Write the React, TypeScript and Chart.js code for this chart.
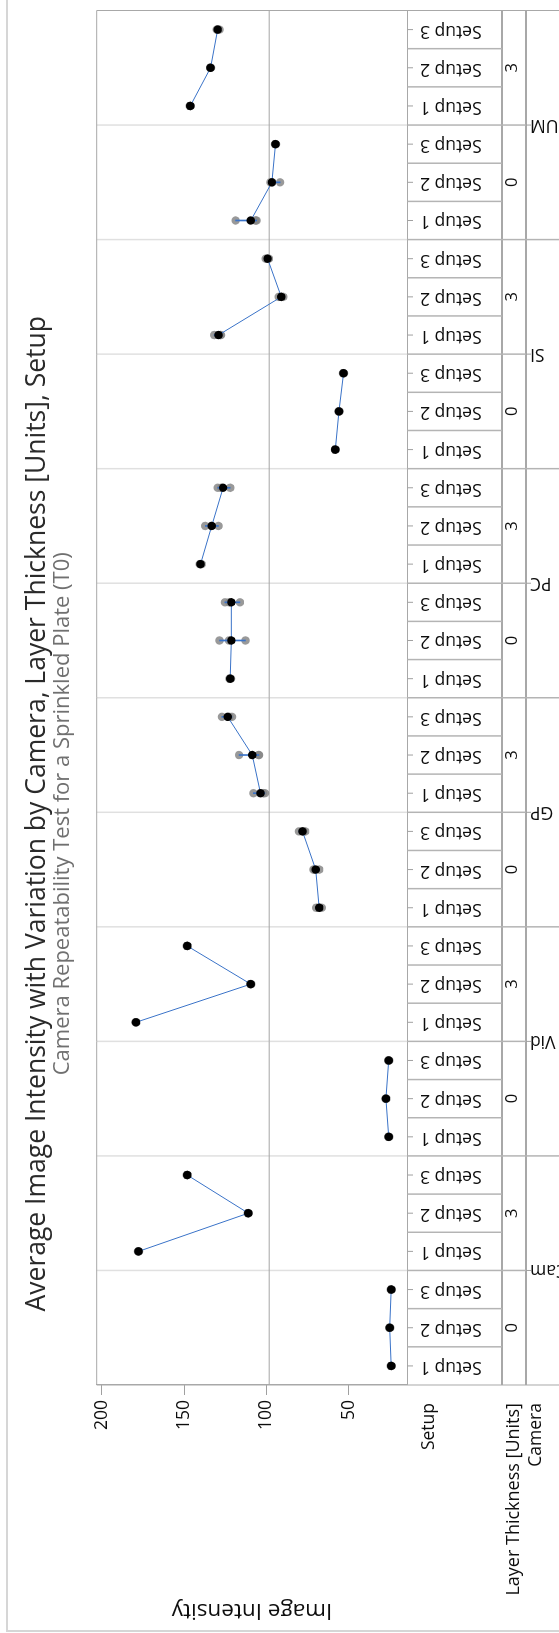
import React, { useEffect, useRef } from 'react';
import { Chart, registerables } from 'chart.js';

Chart.register(...registerables);

const FONT = '"Open Sans", "Noto Sans", sans-serif';

const TITLE = 'Average Image Intensity with Variation by Camera, Layer Thickness [Units], Setup';
const SUBTITLE = 'Camera Repeatability Test for a Sprinkled Plate (T0)';
const Y_TITLE = 'Image Intensity';
const ROW_HEADERS = ['Setup', 'Layer Thickness [Units]', 'Camera'];

const CAMERAS = ['Cam', 'Vid', 'GP', 'PC', 'SI', 'UM'];
const THICKNESSES = ['0', '3'];
const SETUPS = ['Setup 1', 'Setup 2', 'Setup 3'];

const Y_TICKS = [50, 100, 150, 200];
const Y_MIN = 14.4;
const Y_MAX = 203;

// cell means per camera: thickness 0 (Setup 1..3), thickness 3 (Setup 1..3)
const CAM_MEANS = [24.3, 25.2, 24.3, 177.6, 111.0, 148.1];
const VID_MEANS = [25.8, 27.5, 25.8, 179.2, 109.5, 148.1];
const GP_MEANS = [68.0, 70.1, 78.1, 103.6, 108.6, 123.5];
const PC_MEANS = [122.0, 121.3, 121.3, 140.0, 133.2, 126.3];
const SI_MEANS = [58.2, 56.0, 53.2, 129.1, 91.0, 99.3];
const UM_MEANS = [109.5, 96.7, 94.5, 146.2, 133.9, 129.6];

// individual measurements per cell (same order)
const CAM_REPS = [[24.0, 24.3, 24.6], [24.9, 25.2, 25.5], [24.0, 24.3, 24.6], [177.3, 177.6, 177.9], [110.7, 111.0, 111.3], [147.8, 148.1, 148.4]];
const VID_REPS = [[25.5, 25.8, 26.1], [27.2, 27.5, 27.8], [25.5, 25.8, 26.1], [178.9, 179.2, 179.5], [109.2, 109.5, 109.8], [147.8, 148.1, 148.4]];
const GP_REPS = [[69.8, 67.8, 66.4], [71.4, 70.9, 68.0], [80.3, 77.5, 76.5], [107.9, 102.0, 100.9], [116.6, 104.7, 104.5], [127.0, 122.6, 120.9]];
const PC_REPS = [[122.5, 122.0, 121.5], [128.5, 112.7, 122.7], [125.2, 116.1, 122.6], [140.5, 139.9, 139.3], [137.1, 129.1, 133.4], [129.5, 122.0, 127.4]];
const SI_REPS = [[58.5, 58.2, 57.9], [56.3, 56.0, 55.7], [53.5, 53.2, 52.9], [131.7, 128.0, 127.6], [92.5, 91.0, 89.8], [100.4, 99.0, 98.5]];
const UM_REPS = [[118.7, 106.6, 106.0], [97.5, 96.5, 91.7], [94.8, 94.5, 94.2], [146.5, 146.2, 145.9], [134.2, 133.9, 133.6], [130.2, 129.5, 128.5]];

const MEANS_BY_CAMERA = [CAM_MEANS, VID_MEANS, GP_MEANS, PC_MEANS, SI_MEANS, UM_MEANS];
const REPS_BY_CAMERA = [CAM_REPS, VID_REPS, GP_REPS, PC_REPS, SI_REPS, UM_REPS];

const BLUE = 'rgb(58,115,200)';
const TEXT = '#0d0d0d';
const LINE = '#a8a8a8';

const CATEGORY_KEYS: string[] = [];
CAMERAS.forEach((c) => THICKNESSES.forEach((t) => SETUPS.forEach((s) => CATEGORY_KEYS.push(`${c}|${t}|${s}`))));

const MEANS: number[] = MEANS_BY_CAMERA.flat();
const REPS: number[][] = REPS_BY_CAMERA.flat();
const GRAND_MEAN = MEANS.reduce((a, b) => a + b, 0) / MEANS.length;

const REP_POINTS = REPS.flatMap((cell, i) => cell.map((v) => ({ x: CATEGORY_KEYS[i], y: v })));
const RANGES = REPS.map((cell) => [Math.min(...cell), Math.max(...cell)]);

const SETUP_ROW_H = 94.5;
const THICK_ROW_H = 24;

function seg(ctx: CanvasRenderingContext2D, x1: number, y1: number, x2: number, y2: number) {
  ctx.beginPath();
  ctx.moveTo(x1, y1);
  ctx.lineTo(x2, y2);
  ctx.stroke();
}

const variabilityPlugin = {
  id: 'variabilityTable',
  beforeDraw(chart: any) {
    const { ctx, width, height } = chart;
    ctx.save();
    ctx.strokeStyle = '#d6d6d6';
    ctx.lineWidth = 2;
    ctx.beginPath();
    ctx.moveTo(2, height + 5);
    ctx.lineTo(2, 7);
    ctx.lineTo(width + 5, 7);
    ctx.stroke();
    ctx.restore();
  },
  beforeDatasetsDraw(chart: any) {
    const { ctx, chartArea: ca, scales } = chart;
    const n = CATEGORY_KEYS.length;
    const step = (ca.right - ca.left) / n;
    ctx.save();
    ctx.strokeStyle = '#e0e0e0';
    ctx.lineWidth = 1.5;
    for (let k = 3; k < n; k += 3) {
      const px = ca.left + k * step;
      seg(ctx, px, ca.top, px, ca.bottom);
    }
    const gy = scales.y.getPixelForValue(GRAND_MEAN);
    ctx.strokeStyle = '#a6a6a6';
    ctx.lineWidth = 1;
    seg(ctx, ca.left, gy, ca.right, gy);
    ctx.restore();
  },
  afterDraw(chart: any) {
    const { ctx, chartArea: ca, scales, height } = chart;
    const xs = scales.x;
    const n = CATEGORY_KEYS.length;
    const step = (ca.right - ca.left) / n;
    const r0 = ca.bottom;
    const r1 = r0 + SETUP_ROW_H;
    const r2 = r1 + THICK_ROW_H;
    const r3 = height + 5;
    ctx.save();
    // plot frame
    ctx.strokeStyle = LINE;
    ctx.lineWidth = 1;
    seg(ctx, ca.left, ca.top, ca.right, ca.top);
    seg(ctx, ca.right, ca.top, ca.right, r3);
    seg(ctx, ca.left, ca.top, ca.left, r3);
    seg(ctx, ca.left, r0, ca.right, r0);
    ctx.lineWidth = 2;
    seg(ctx, ca.left, r1, ca.right, r1);
    seg(ctx, ca.left, r2, ca.right, r2);
    // setup cell separators
    ctx.strokeStyle = '#b4b4b4';
    ctx.lineWidth = 1.5;
    for (let k = 1; k < n; k++) {
      const px = ca.left + k * step;
      seg(ctx, px, r0, px, r1);
      if (k % 3 === 0) seg(ctx, px, r1, px, r2);
      if (k % 6 === 0) seg(ctx, px, r2, px, r3);
    }
    // tick marks
    ctx.strokeStyle = '#a0a0a0';
    ctx.lineWidth = 1;
    for (let i = 0; i < n; i++) {
      const cx = xs.getPixelForValue(i);
      seg(ctx, cx, r0, cx, r0 + 5.5);
    }
    for (let c = 0; c < CAMERAS.length; c++) {
      const cx = ca.left + (c * 6 + 3) * step;
      seg(ctx, cx, r2, cx, r2 + 5);
    }
    // labels
    ctx.fillStyle = TEXT;
    ctx.font = `17.5px ${FONT}`;
    ctx.textBaseline = 'alphabetic';
    for (let i = 0; i < n; i++) {
      const cx = xs.getPixelForValue(i);
      ctx.save();
      ctx.translate(cx + 4, r0 + 12.5);
      ctx.rotate(-Math.PI / 2);
      ctx.textAlign = 'right';
      ctx.fillText(SETUPS[i % 3], 0, 0);
      ctx.restore();
    }
    ctx.font = `16.5px ${FONT}`;
    ctx.textAlign = 'center';
    for (let g = 0; g < n / 3; g++) {
      const cx = ca.left + (g * 3 + 1.5) * step;
      ctx.fillText(THICKNESSES[g % 2], cx, r1 + 14.5);
    }
    ctx.font = `17.5px ${FONT}`;
    for (let c = 0; c < CAMERAS.length; c++) {
      const cx = ca.left + (c * 6 + 3) * step;
      ctx.save();
      ctx.translate(cx + 5, r2 + 4);
      ctx.rotate(-Math.PI / 2);
      ctx.textAlign = 'right';
      ctx.fillText(CAMERAS[c], 0, 0);
      ctx.restore();
    }
    // row headers
    ctx.textAlign = 'right';
    const hx = ca.left - 18;
    ctx.fillText(ROW_HEADERS[0], hx, r0 + 26.5);
    ctx.font = `18px ${FONT}`;
    ctx.fillText(ROW_HEADERS[1], hx, r1 + 17);
    ctx.font = `17.5px ${FONT}`;
    ctx.fillText(ROW_HEADERS[2], hx, r2 + 15);
    ctx.restore();
  },
};

export default function App() {
  const ref = useRef<HTMLCanvasElement>(null);
  useEffect(() => {
    if (!ref.current) return;
    const chart = new Chart(ref.current, {
      type: 'line',
      data: {
        labels: CATEGORY_KEYS,
        datasets: [
          {
            type: 'line',
            label: 'Measurements',
            data: REP_POINTS as any,
            showLine: false,
            pointRadius: 4.2,
            pointBackgroundColor: 'rgba(135,135,135,0.85)',
            pointBorderWidth: 0,
            order: 3,
          },
          {
            type: 'bar',
            label: 'Range',
            data: RANGES as any,
            backgroundColor: BLUE,
            barThickness: 1,
            borderWidth: 0,
            order: 2,
          },
          {
            type: 'line',
            label: 'Cell Mean',
            data: MEANS,
            borderColor: BLUE,
            borderWidth: 1,
            pointRadius: 4.2,
            pointBackgroundColor: '#000',
            pointBorderWidth: 0,
            tension: 0,
            segment: {
              borderColor: (c: any) => (c.p0DataIndex % 3 === 2 ? 'rgba(0,0,0,0)' : BLUE),
            },
            order: 1,
          },
        ] as any,
      },
      options: {
        responsive: false,
        devicePixelRatio: 1,
        animation: false,
        events: [],
        layout: { padding: { left: 16, right: 10.5, top: 0, bottom: 151.5 } },
        plugins: {
          legend: { display: false },
          tooltip: { enabled: false },
          title: {
            display: true,
            text: TITLE,
            color: '#2a2a2a',
            font: { family: FONT, size: 26.5, weight: 'normal', lineHeight: 1 },
            padding: { top: 24.2, bottom: 0 },
          },
          subtitle: {
            display: true,
            text: SUBTITLE,
            color: '#707070',
            font: { family: FONT, size: 22, weight: 'normal', lineHeight: 1 },
            padding: { top: 1.0, bottom: 23.0 },
          },
        },
        scales: {
          x: {
            type: 'category',
            offset: true,
            display: false,
            grid: { display: false },
          },
          y: {
            type: 'linear',
            min: Y_MIN,
            max: Y_MAX,
            afterBuildTicks: (s: any) => {
              s.ticks = Y_TICKS.map((v) => ({ value: v }));
            },
            afterFit: (s: any) => {
              s.width = 232;
              s.paddingTop = 0;
              s.paddingBottom = 0;
            },
            grid: { drawOnChartArea: false, drawTicks: true, tickLength: 10, color: '#a0a0a0', lineWidth: 1 },
            border: { display: true, color: LINE, width: 1 },
            ticks: { font: { family: FONT, size: 17.5 }, color: TEXT, padding: 5 },
            title: {
              display: true,
              text: Y_TITLE,
              color: TEXT,
              font: { family: FONT, size: 22.5, lineHeight: 1 },
              padding: { top: -4.5, bottom: 0 },
            },
          },
        },
      } as any,
      plugins: [variabilityPlugin],
    });
    return () => chart.destroy();
  }, []);

  return (
    <div style={{ position: 'absolute', left: 0, top: 0, width: 559, height: 1633, overflow: 'hidden', background: '#fff' }}>
      <div
        style={{
          position: 'absolute',
          left: 0,
          top: 0,
          width: 1633,
          height: 559,
          transformOrigin: '0 0',
          transform: 'translate(0px, 1633px) rotate(-90deg)',
        }}
      >
        <canvas ref={ref} width={1633} height={559} style={{ display: 'block', width: 1633, height: 559 }} />
      </div>
    </div>
  );
}
